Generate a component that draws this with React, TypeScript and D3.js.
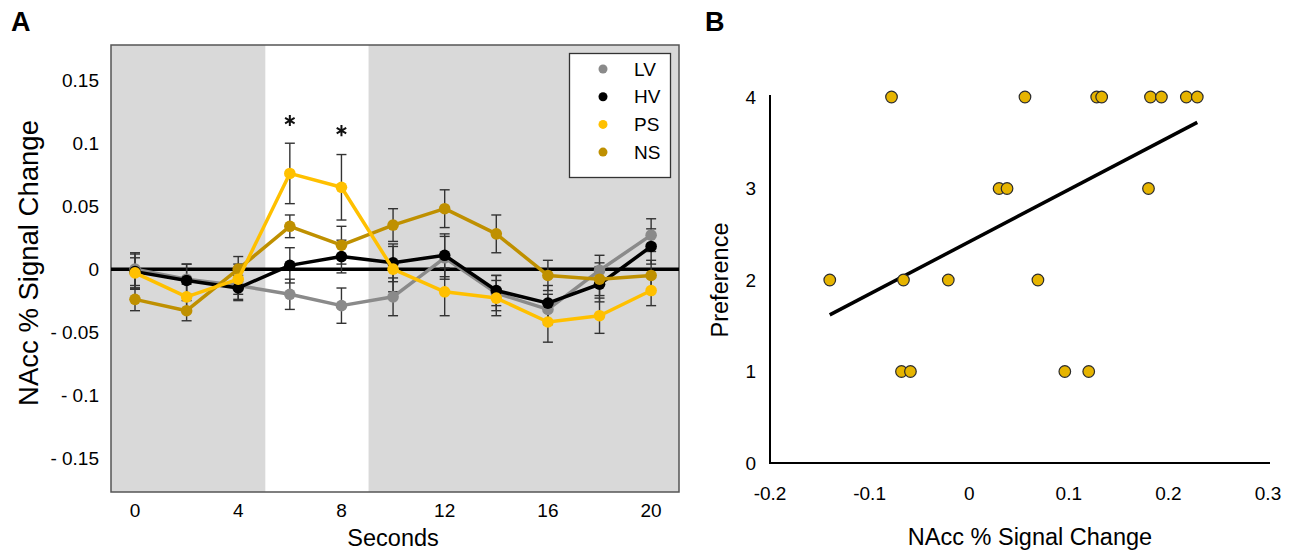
import { useEffect, useRef } from "react";
import * as d3 from "d3";

// panel A: time course
const seconds = [0, 2, 4, 6, 8, 10, 12, 14, 16, 18, 20];
const xTickValues = [0, 4, 8, 12, 16, 20];
const yTickValues = [0.15, 0.1, 0.05, 0, -0.05, -0.1, -0.15];
const yTickLabels = ["0.15", "0.1", "0.05", "0", "- 0.05", "- 0.1", "- 0.15"];
const conditionNames = ["LV", "HV", "PS", "NS"];

const lvValues = [0, -0.008, -0.013, -0.02, -0.029, -0.022, 0.009, -0.019, -0.032, -0.001, 0.027];
const lvErrors = [0.013, 0.012, 0.011, 0.012, 0.014, 0.015, 0.017, 0.014, 0.012, 0.012, 0.013];
const hvValues = [-0.002, -0.009, -0.015, 0.003, 0.01, 0.005, 0.011, -0.017, -0.027, -0.012, 0.018];
const hvErrors = [0.014, 0.013, 0.01, 0.014, 0.013, 0.015, 0.017, 0.012, 0.014, 0.014, 0.014];
const psValues = [-0.003, -0.022, -0.008, 0.076, 0.065, 0, -0.018, -0.023, -0.042, -0.037, -0.017];
const psErrors = [0.012, 0.01, 0.012, 0.024, 0.026, 0.018, 0.019, 0.014, 0.016, 0.014, 0.012];
const nsValues = [-0.024, -0.033, 0, 0.034, 0.019, 0.035, 0.048, 0.028, -0.005, -0.008, -0.005];
const nsErrors = [0.009, 0.008, 0.01, 0.009, 0.015, 0.013, 0.015, 0.015, 0.012, 0.013, 0.012];

// significant time points (asterisks)
const starSeconds = [6, 8];
const starValues = [0.118, 0.11];

// panel B: scatter
const signalChange = [
    -0.078, 0.056, 0.128, 0.133, 0.182, 0.193, 0.218, 0.229,
    0.03, 0.038, 0.18,
    -0.14, -0.066, -0.021, 0.069,
    -0.068, -0.059, 0.096, 0.12,
];
const preference = [4, 4, 4, 4, 4, 4, 4, 4, 3, 3, 3, 2, 2, 2, 2, 1, 1, 1, 1];
const bXTicks = [-0.2, -0.1, 0, 0.1, 0.2, 0.3];
const bXTickLabels = ["-0.2", "-0.1", "0", "0.1", "0.2", "0.3"];
const bYTicks = [0, 1, 2, 3, 4];

const FONT = "'Liberation Sans', Arial, sans-serif";

export default function App() {
    const svgRef = useRef<SVGSVGElement>(null);

    useEffect(() => {
        const svg = d3.select(svgRef.current);
        svg.selectAll("*").remove();

        // ---------------- panel A ----------------
        const xA = d3.scaleLinear().domain([-0.93, 21.08]).range([111, 679]);
        const yA = d3.scaleLinear().domain([-0.177, 0.178]).range([492, 45]);

        const a = svg.append("g").attr("class", "panelA");

        a.append("rect")
            .attr("x", xA(-0.93))
            .attr("y", yA(0.178))
            .attr("width", xA(21.08) - xA(-0.93))
            .attr("height", yA(-0.177) - yA(0.178))
            .attr("fill", "#d9d9d9");

        // stimulus window
        a.append("rect")
            .attr("x", xA(5.05))
            .attr("y", yA(0.178))
            .attr("width", xA(9.05) - xA(5.05))
            .attr("height", yA(-0.177) - yA(0.178))
            .attr("fill", "#ffffff");

        a.append("rect")
            .attr("x", xA(-0.93))
            .attr("y", yA(0.178))
            .attr("width", xA(21.08) - xA(-0.93))
            .attr("height", yA(-0.177) - yA(0.178))
            .attr("fill", "none")
            .attr("stroke", "#555555")
            .attr("stroke-width", 1.5);

        a.append("line")
            .attr("x1", xA(-0.93))
            .attr("x2", xA(21.08))
            .attr("y1", yA(0))
            .attr("y2", yA(0))
            .attr("stroke", "#000")
            .attr("stroke-width", 3.5);

        const series = [
            { name: "LV", values: lvValues, errors: lvErrors, color: "#8a8a8a" },
            { name: "HV", values: hvValues, errors: hvErrors, color: "#000000" },
            { name: "NS", values: nsValues, errors: nsErrors, color: "#bf9000" },
            { name: "PS", values: psValues, errors: psErrors, color: "#ffc000" },
        ];

        // error bars
        const cap = 5;
        series.forEach((s) => {
            const eb = a.append("g").attr("class", "err-" + s.name);
            seconds.forEach((t, i) => {
                const x = xA(t);
                const y0 = yA(s.values[i] - s.errors[i]);
                const y1 = yA(s.values[i] + s.errors[i]);
                eb.append("line").attr("x1", x).attr("x2", x).attr("y1", y0).attr("y2", y1);
                eb.append("line").attr("x1", x - cap).attr("x2", x + cap).attr("y1", y0).attr("y2", y0);
                eb.append("line").attr("x1", x - cap).attr("x2", x + cap).attr("y1", y1).attr("y2", y1);
            });
            eb.selectAll("line").attr("stroke", "#333333").attr("stroke-width", 1.4);
        });

        const lineA = d3
            .line<number>()
            .x((_, i) => xA(seconds[i]))
            .y((v) => yA(v));

        series.forEach((s) => {
            a.append("path")
                .attr("d", lineA(s.values))
                .attr("fill", "none")
                .attr("stroke", s.color)
                .attr("stroke-width", 3.5)
                .attr("stroke-linejoin", "round");
            a.append("g")
                .selectAll("circle")
                .data(s.values)
                .join("circle")
                .attr("cx", (_, i) => xA(seconds[i]))
                .attr("cy", (v) => yA(v))
                .attr("r", 5.8)
                .attr("fill", s.color);
        });

        // asterisks
        starSeconds.forEach((t, i) => {
            a.append("path")
                .attr("d", d3.symbol(d3.symbolAsterisk, 85)())
                .attr("transform", `translate(${xA(t)},${yA(starValues[i])})`)
                .attr("stroke", "#111")
                .attr("stroke-width", 2)
                .attr("fill", "none");
        });

        // y tick labels
        a.append("g")
            .selectAll("text")
            .data(yTickValues)
            .join("text")
            .attr("x", 99)
            .attr("y", (v) => yA(v))
            .attr("dy", "0.35em")
            .attr("text-anchor", "end")
            .attr("font-size", 19)
            .text((_, i) => yTickLabels[i]);

        // x tick labels
        a.append("g")
            .selectAll("text")
            .data(xTickValues)
            .join("text")
            .attr("x", (v) => xA(v))
            .attr("y", 510)
            .attr("dy", "0.35em")
            .attr("text-anchor", "middle")
            .attr("font-size", 19)
            .text((v) => String(v));

        a.append("text")
            .attr("x", xA(10))
            .attr("y", 538)
            .attr("dy", "0.35em")
            .attr("text-anchor", "middle")
            .attr("font-size", 23.5)
            .text("Seconds");

        a.append("text")
            .attr("transform", `translate(28, 263) rotate(-90)`)
            .attr("dy", "0.35em")
            .attr("text-anchor", "middle")
            .attr("font-size", 27.5)
            .text("NAcc % Signal Change");

        // legend
        const legendColors = ["#8a8a8a", "#000000", "#ffc000", "#bf9000"];
        const legend = a.append("g");
        legend
            .append("rect")
            .attr("x", 569.5)
            .attr("y", 53.5)
            .attr("width", 101)
            .attr("height", 124)
            .attr("fill", "#fff")
            .attr("stroke", "#333")
            .attr("stroke-width", 1.3);
        conditionNames.forEach((name, i) => {
            const y = 69 + i * 27.7;
            legend.append("circle").attr("cx", 603).attr("cy", y).attr("r", 4.5).attr("fill", legendColors[i]);
            legend
                .append("text")
                .attr("x", 634)
                .attr("y", y)
                .attr("dy", "0.35em")
                .attr("font-size", 19)
                .text(name);
        });

        a.append("text")
            .attr("x", 11)
            .attr("y", 31)
            .attr("font-size", 27)
            .attr("font-weight", "bold")
            .text("A");

        // ---------------- panel B ----------------
        const xB = d3.scaleLinear().domain([-0.2, 0.3]).range([770, 1268]);
        const yB = d3.scaleLinear().domain([0, 4]).range([463, 97]);
        const b = svg.append("g").attr("class", "panelB");

        b.append("path")
            .attr("d", `M${xB(-0.2)},${yB(4) - 2}V${yB(0)}H${xB(0.3) + 2}`)
            .attr("fill", "none")
            .attr("stroke", "#000")
            .attr("stroke-width", 2);

        // least squares fit
        const n = signalChange.length;
        const mx = d3.mean(signalChange) as number;
        const my = d3.mean(preference) as number;
        let sxy = 0;
        let sxx = 0;
        for (let i = 0; i < n; i++) {
            sxy += (signalChange[i] - mx) * (preference[i] - my);
            sxx += (signalChange[i] - mx) ** 2;
        }
        const slope = sxy / sxx;
        const intercept = my - slope * mx;
        const [minX, maxX] = d3.extent(signalChange) as [number, number];
        b.append("line")
            .attr("x1", xB(minX))
            .attr("y1", yB(intercept + slope * minX))
            .attr("x2", xB(maxX))
            .attr("y2", yB(intercept + slope * maxX))
            .attr("stroke", "#000")
            .attr("stroke-width", 3.5);

        b.append("g")
            .selectAll("circle")
            .data(signalChange)
            .join("circle")
            .attr("cx", (v) => xB(v))
            .attr("cy", (_, i) => yB(preference[i]))
            .attr("r", 5.8)
            .attr("fill", "#e6b400")
            .attr("stroke", "#2b2b2b")
            .attr("stroke-width", 1.2);

        b.append("g")
            .selectAll("text")
            .data(bYTicks)
            .join("text")
            .attr("x", 756)
            .attr("y", (v) => yB(v))
            .attr("dy", "0.35em")
            .attr("text-anchor", "end")
            .attr("font-size", 19)
            .text((v) => String(v));

        b.append("g")
            .selectAll("text")
            .data(bXTicks)
            .join("text")
            .attr("x", (v) => xB(v))
            .attr("y", 493)
            .attr("dy", "0.35em")
            .attr("text-anchor", "middle")
            .attr("font-size", 19)
            .text((_, i) => bXTickLabels[i]);

        b.append("text")
            .attr("x", 1030)
            .attr("y", 537)
            .attr("dy", "0.35em")
            .attr("text-anchor", "middle")
            .attr("font-size", 23.5)
            .text("NAcc % Signal Change");

        b.append("text")
            .attr("transform", `translate(720, ${(yB(0) + yB(4)) / 2}) rotate(-90)`)
            .attr("dy", "0.35em")
            .attr("text-anchor", "middle")
            .attr("font-size", 23.5)
            .text("Preference");

        b.append("text")
            .attr("x", 705)
            .attr("y", 31)
            .attr("font-size", 27)
            .attr("font-weight", "bold")
            .text("B");

        svg.selectAll("text").style("font-family", FONT).attr("fill", "#000");
    }, []);

    return (
        <svg
            ref={svgRef}
            width={1289}
            height={550}
            style={{ position: "absolute", left: 0, top: 0, background: "#fff" }}
        ></svg>
    );
}
